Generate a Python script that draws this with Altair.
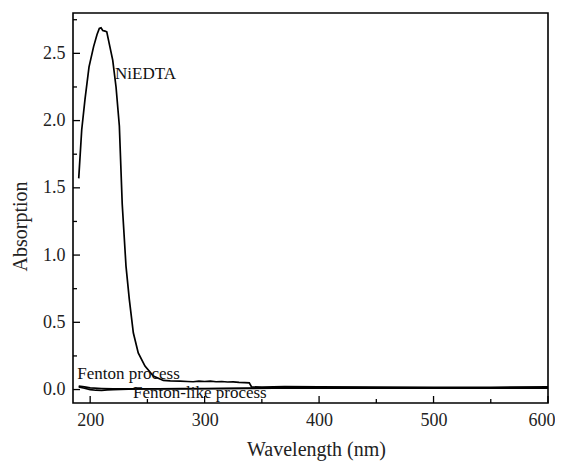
import altair as alt
import pandas as pd

# NiEDTA spectrum
ni_wl = [190, 192.6, 195.5, 199, 203, 206, 208, 209.5, 211, 213, 214.5, 216.7, 219.7, 222.6, 225.5,
         228, 231.3, 234.2, 237.7, 242, 247.9, 255.2, 263.9, 270, 278.5, 285, 290, 295, 300, 305,
         310, 315, 320, 325, 330, 335, 339, 341, 350, 370, 400, 450, 500, 550, 600]
ni_abs = [1.57, 1.93, 2.16, 2.40, 2.55, 2.64, 2.685, 2.69, 2.67, 2.665, 2.66, 2.57, 2.45, 2.25, 1.96,
          1.38, 0.918, 0.670, 0.422, 0.273, 0.174, 0.100, 0.068, 0.064, 0.063, 0.060, 0.058, 0.062, 0.060, 0.063,
          0.058, 0.060, 0.056, 0.057, 0.054, 0.052, 0.050, 0.020, 0.018, 0.022, 0.020, 0.018, 0.017, 0.017, 0.020]

# Fenton process
f_wl = [190, 195, 200, 210, 220, 240, 260, 280, 300, 340, 360, 380, 400, 450, 500, 550, 600]
f_abs = [0.025, 0.020, 0.012, 0.008, 0.005, 0.005, 0.006, 0.007, 0.008, 0.010, 0.012, 0.015, 0.014, 0.012, 0.013, 0.012, 0.012]

# Fenton-like process
fl_wl = [190, 195, 200, 205, 210, 215, 220, 240, 300, 340, 360, 380, 400, 500, 600]
fl_abs = [0.020, 0.010, 0.000, -0.005, -0.006, -0.003, 0.000, 0.004, 0.006, 0.008, 0.010, 0.012, 0.010, 0.010, 0.010]

label_text = ["NiEDTA", "Fenton process", "Fenton-like process"]
label_x = [221.7, 188.8, 237.5]
label_y = [2.346, 0.118, -0.027]

x_major = [200, 300, 400, 500, 600]
x_minor = [250, 350, 450, 550]
y_major = [0.0, 0.5, 1.0, 1.5, 2.0, 2.5]
y_minor = [0.25, 0.75, 1.25, 1.75, 2.25, 2.75]

rows = []
for name, wl, ab in [("NiEDTA", ni_wl, ni_abs), ("Fenton", f_wl, f_abs), ("Fenton-like", fl_wl, fl_abs)]:
    for w, a in zip(wl, ab):
        rows.append({"series": name, "x": w, "y": a})
df = pd.DataFrame(rows)
labels = pd.DataFrame({"text": label_text, "x": label_x, "y": label_y})

W, H = 475, 390
FONT = "Liberation Serif"
xscale = alt.Scale(domain=[185, 600], nice=False, zero=False)
yscale = alt.Scale(domain=[-0.1, 2.8], nice=False, zero=False)

xaxis = alt.Axis(
    title="Wavelength (nm)", values=x_major, format="d", labelFlush=5, labelFlushOffset=7,
    labelPadding=8, titleX=243, titleY=52, titleBaseline="alphabetic", titleAlign="center",
    labelFont=FONT, labelFontSize=18, titleFont=FONT, titleFontSize=20)
yaxis = alt.Axis(
    title="Absorption", values=y_major, format=".1f", labelPadding=8,
    titleX=-53, titleY=213, titleAngle=-90, titleAlign="center", titleBaseline="middle",
    labelFont=FONT, labelFontSize=18, titleFont=FONT, titleFontSize=20)

X = alt.X("x:Q", scale=xscale, axis=xaxis)
Y = alt.Y("y:Q", scale=yscale, axis=yaxis)

lines = alt.Chart(df).mark_line(color="black", strokeWidth=1.7).encode(
    x=X, y=Y, detail="series:N",
)

text = alt.Chart(labels).mark_text(font=FONT, fontSize=17, align="left", baseline="middle", color="#111").encode(
    x=X, y=Y, text="text:N",
)

def xticks(vals, length):
    d = pd.DataFrame({"x": vals})
    return alt.Chart(d).mark_rule(color="black", strokeWidth=1.3).encode(
        x=X, y=alt.value(H), y2=alt.value(H - length))

def yticks(vals, length):
    d = pd.DataFrame({"y": vals})
    return alt.Chart(d).mark_rule(color="black", strokeWidth=1.3).encode(
        y=Y, x=alt.value(0), x2=alt.value(length))

chart = alt.layer(
    lines, text, xticks(x_major, 7), xticks(x_minor, 4), yticks(y_major, 7), yticks(y_minor, 4)
).properties(
    width=W, height=H,
    padding={"left": 65, "top": 5, "right": 7, "bottom": 58},
    autosize=alt.AutoSizeParams(type="none"),
    background="white",
).configure_view(
    stroke="black", strokeWidth=1.6
).configure_axis(
    domain=False, ticks=False, grid=False,
    labelFont=FONT, labelFontSize=18, labelColor="#222",
    titleFont=FONT, titleFontSize=20, titleFontWeight="normal", titleColor="#222",
)

chart.save("out.html", embed_options={"renderer": "svg", "actions": False})
